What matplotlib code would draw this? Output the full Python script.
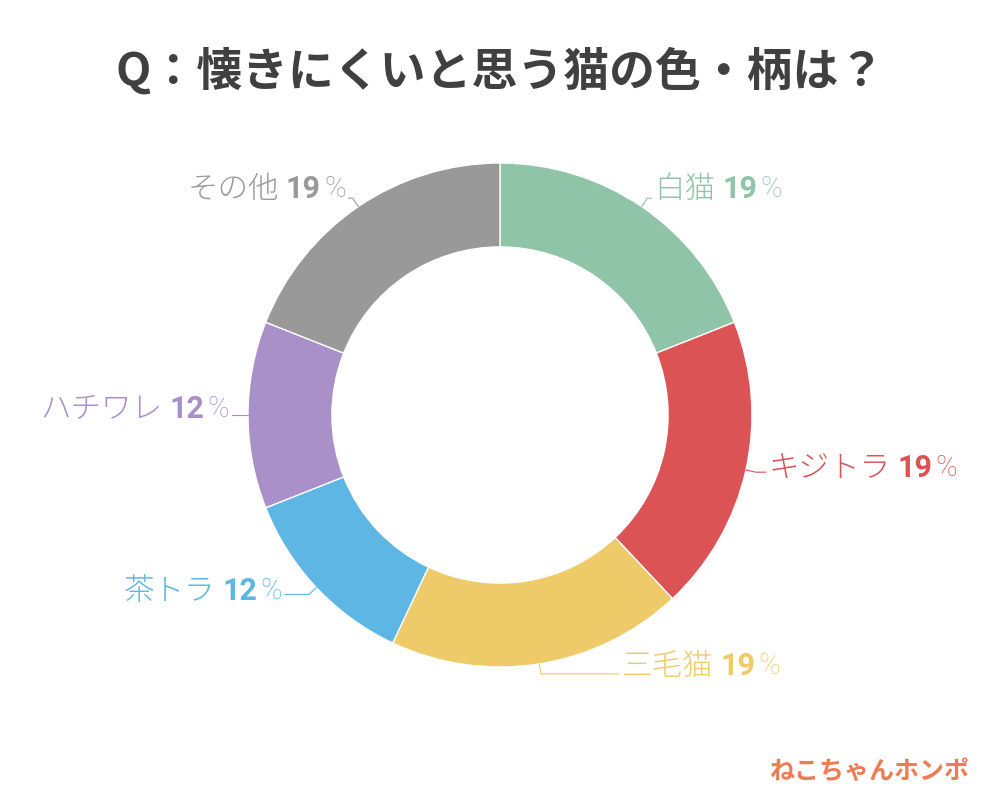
import numpy as np
import matplotlib
matplotlib.use("Agg")
import matplotlib.pyplot as plt
from matplotlib.transforms import offset_copy

# ---- data ----
categories = ["白猫", "キジトラ", "三毛猫", "茶トラ", "ハチワレ", "その他"]
values = [19, 19, 19, 12, 12, 19]
colors = ["#8fc4a8", "#dc5356", "#eeca68", "#5eb6e4", "#a990c8", "#999999"]
title = "Q：懐きにくいと思う猫の色・柄は？"
brand = "ねこちゃんホンポ"

# label line styling (horizontal length in px, text dy px)
line_len2 = [4, 10, 78, 24, 6, 4]
text_dy = [9, 4, 8, 3, 6, 9]

JP = ["Noto Sans CJK JP", "DejaVu Sans"]
NUM = ["Roboto", "Noto Sans CJK JP", "DejaVu Sans"]

fig = plt.figure(figsize=(10, 8), dpi=100)
ax = fig.add_axes([0, 0, 1, 1])

cx, cy, R = 500, 385, 252
wedges, _ = ax.pie(values, colors=colors, startangle=90, counterclock=False,
                   center=(cx, cy), radius=R, frame=True,
                   wedgeprops=dict(width=R * 0.333, edgecolor="white", linewidth=1))
ax.set_xlim(0, 1000)
ax.set_ylim(0, 800)
ax.set_aspect("equal")
ax.axis("off")

fig.text(0.5, 1 - 72 / 800, title, ha="center", va="center", fontsize=33,
         fontweight="bold", color="#404040", family=JP)

fig.canvas.draw()
renderer = fig.canvas.get_renderer()

for i, w in enumerate(wedges):
    ang = np.deg2rad((w.theta1 + w.theta2) / 2)
    c, s = np.cos(ang), np.sin(ang)
    p0 = (cx + R * c, cy + R * s)
    p1 = (cx + R * 1.04 * c, cy + R * 1.04 * s)
    side = 1 if c >= 0 else -1
    p2 = (p1[0] + side * line_len2[i], p1[1])
    ax.plot([p0[0], p1[0], p2[0]], [p0[1], p1[1], p2[1]], color=colors[i], lw=0.8)
    tx, ty = p2[0] + side * 3, p2[1] + text_dy[i]
    col = colors[i]
    parts = [(categories[i], JP, "light", 22, 7),
             (str(values[i]), NUM, "bold", 22, 3),
             ("%", NUM, "light", 21, 0)]
    if side < 0:
        parts = parts[::-1]
        parts = [(p[0], p[1], p[2], p[3], parts[k + 1][4] if k + 1 < len(parts) else 0)
                 for k, p in enumerate(parts)]
    off = 0.0
    for txt, fam, wt, fs, gap in parts:
        tr = offset_copy(ax.transData, fig=fig, x=side * off * 72 / 100, y=0, units="points")
        t = ax.text(tx, ty, txt, transform=tr, ha="left" if side > 0 else "right",
                    va="center", fontsize=fs, fontweight=wt, color=col, family=fam)
        bb = t.get_window_extent(renderer)
        off += bb.width + gap

fig.text(1 - 30 / 1000, 1 - 772 / 800, brand, ha="right", va="center", fontsize=18,
         fontweight="bold", color="#f07a52", family=JP)

fig.savefig("out.png", dpi=100, facecolor="white")
